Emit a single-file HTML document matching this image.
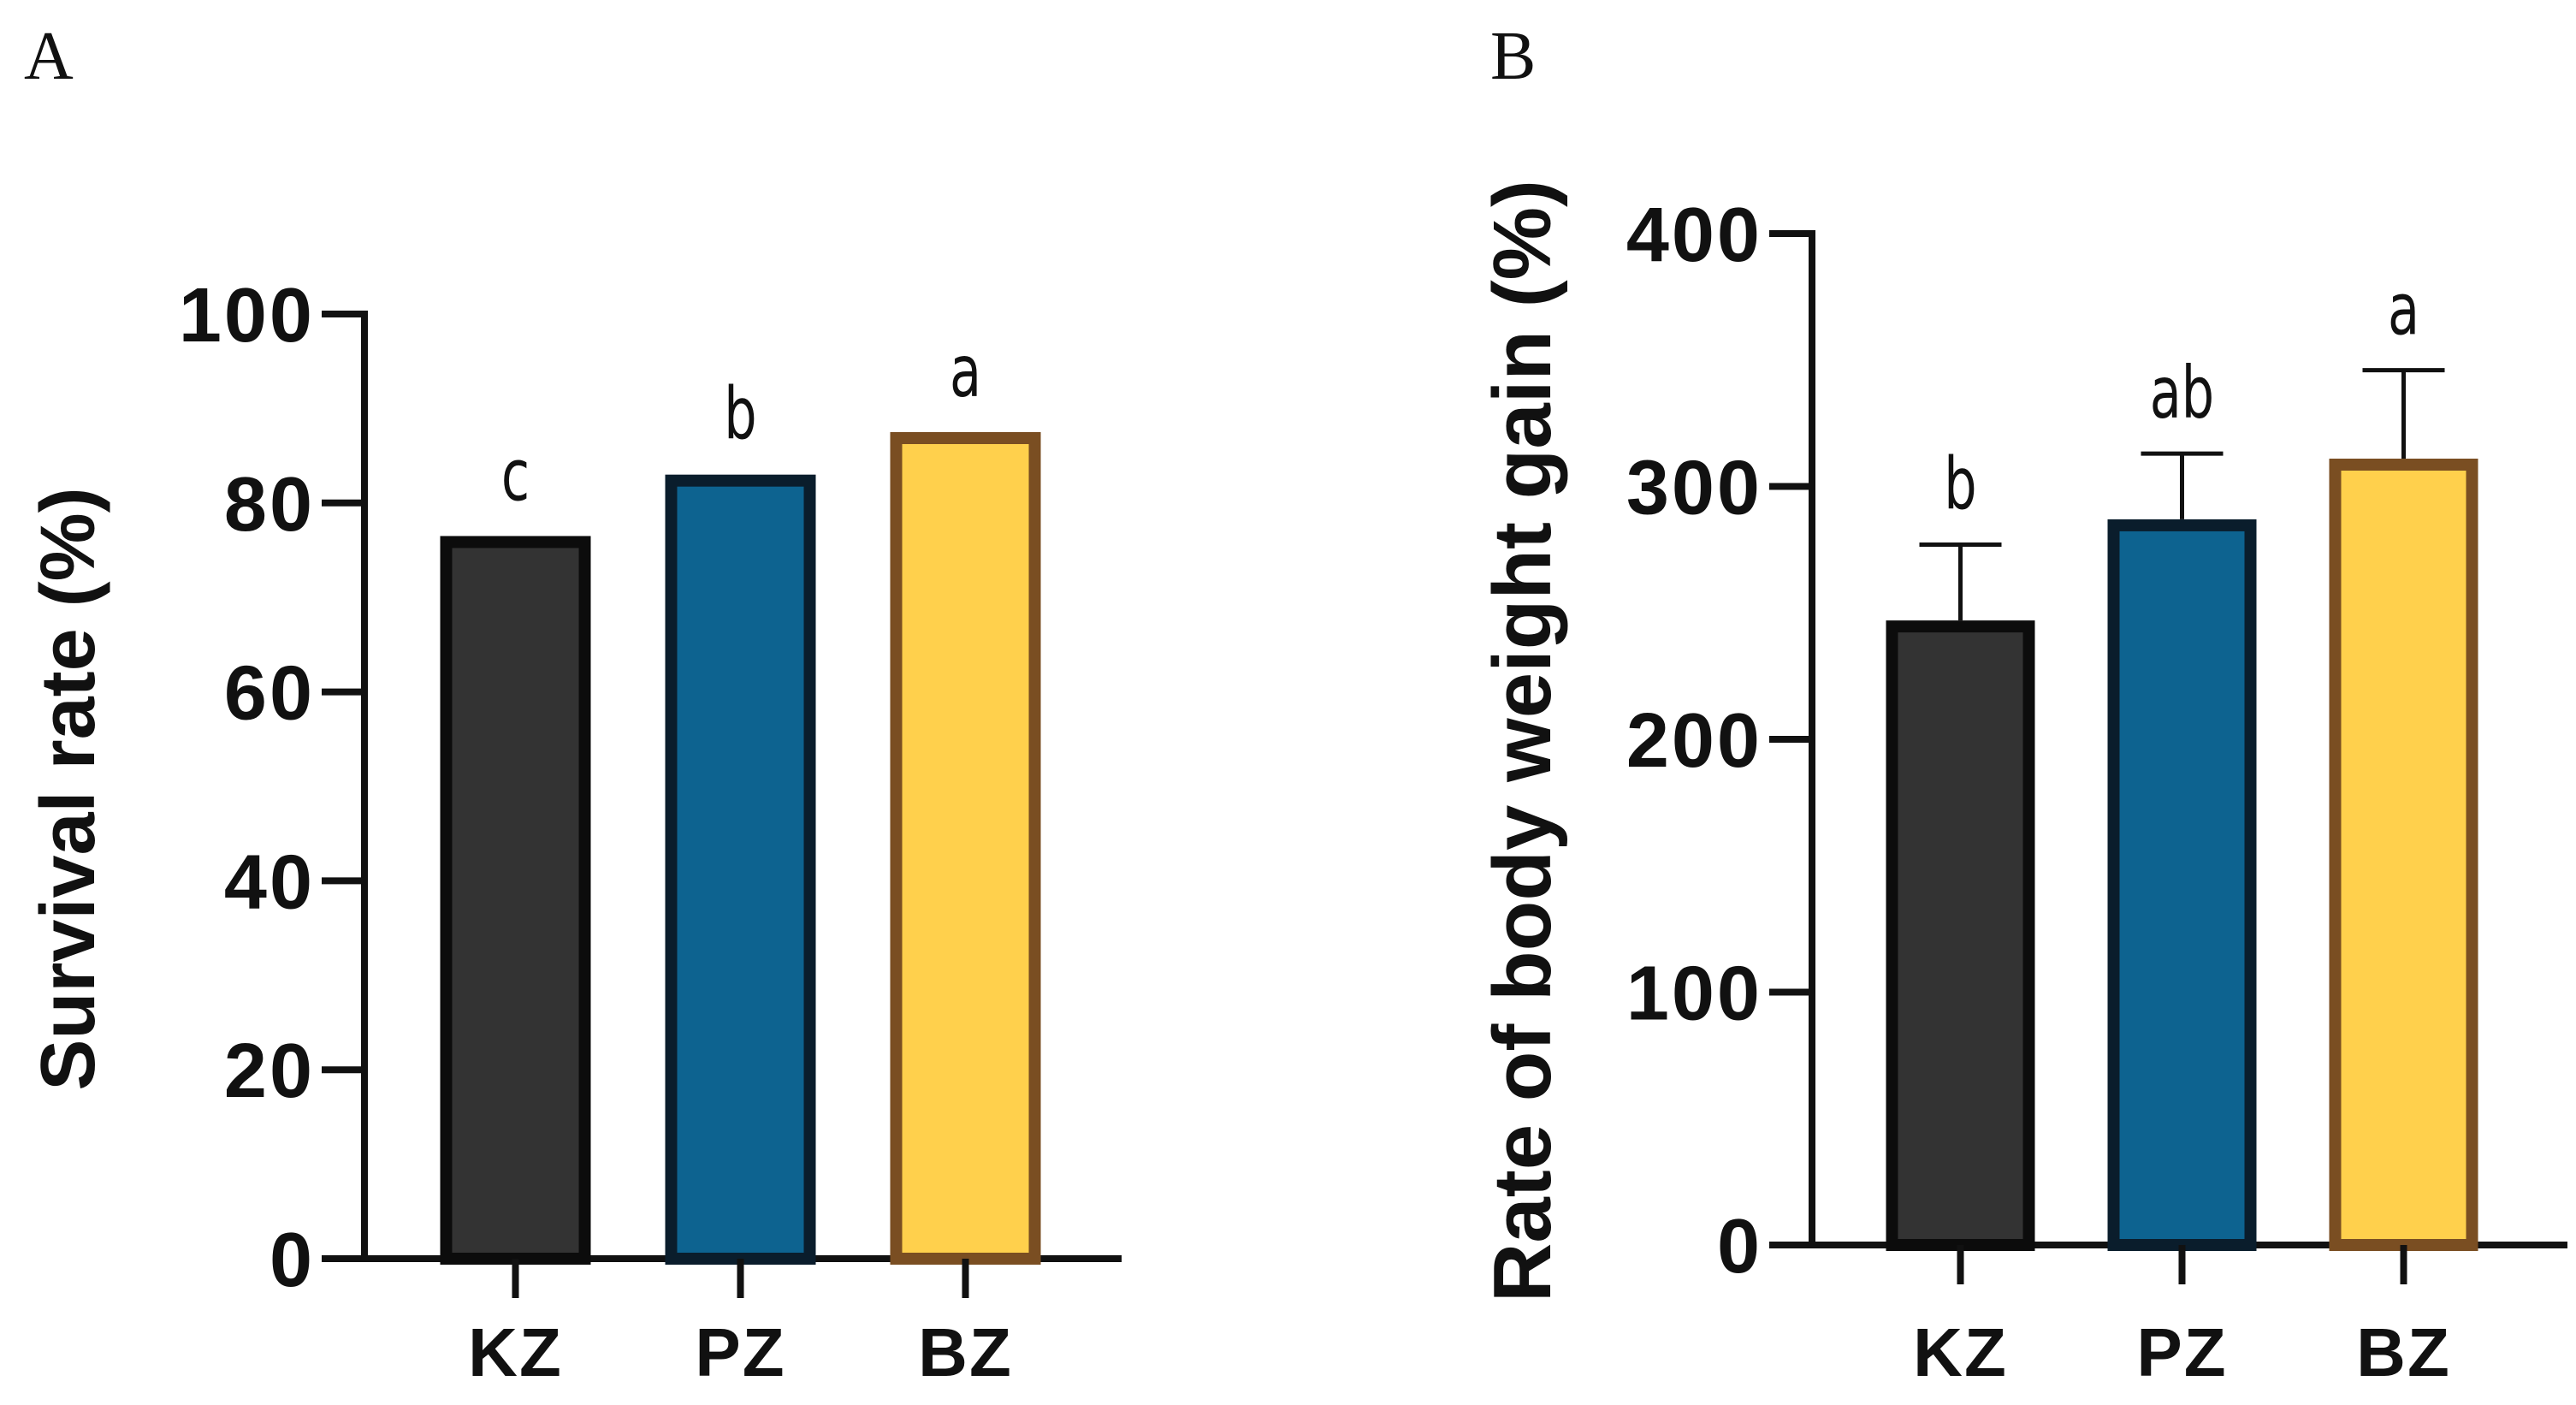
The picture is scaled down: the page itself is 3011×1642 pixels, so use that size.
<!DOCTYPE html>
<html><head><meta charset="utf-8">
<style>
html,body{margin:0;padding:0;background:#fff;}
svg{display:block;}
.tick{font-family:"Liberation Sans",Arial,sans-serif;font-weight:bold;font-size:90px;fill:#111;letter-spacing:3px;}
.cat{font-family:"Liberation Sans",Arial,sans-serif;font-weight:bold;font-size:80px;fill:#111;letter-spacing:2px;}
.ttl{font-family:"Liberation Sans",Arial,sans-serif;font-weight:bold;fill:#111;}
.sig{font-family:"DejaVu Sans Condensed","Liberation Sans Narrow","Liberation Sans",sans-serif;font-size:84px;fill:#111;}
.pl{font-family:"Liberation Serif",serif;font-size:80px;fill:#111;}
</style></head>
<body>
<svg id="chart" width="3011" height="1642" viewBox="0 0 3011 1642" xmlns="http://www.w3.org/2000/svg">
<text class="pl" x="28" y="92">A</text>
<text class="pl" x="1742" y="92">B</text>
</svg>
<script>
const categories = ["KZ","PZ","BZ"];
const survivalValues = [76.5, 83, 87.5];
const survivalLetters = ["c","b","a"];
const survivalTicks = [0,20,40,60,80,100];
const gainValues = [247, 287, 311];
const gainErrors = [30, 26, 35];
const gainLetters = ["b","ab","a"];
const gainTicks = [0,100,200,300,400];

const fills = ["#333333","#0d6390","#ffd04c"];
const strokes = ["#0c0c0c","#0a1d2c","#7a4e22"];
const svg = document.getElementById('chart');
const NS = "http://www.w3.org/2000/svg";
function mk(tag, attrs, parent){ const e=document.createElementNS(NS,tag); for(const k in attrs) e.setAttribute(k,attrs[k]); (parent||svg).appendChild(e); return e; }

function panel(cfg){
  const g = mk('g',{});
  
  
  const y = v => cfg.y0 - (v - 0) / cfg.max * (cfg.y0 - cfg.yTop);
  const xc = i => cfg.x1 + (i + 0.5) * cfg.step;
  const ya = mk('line',{x1:cfg.ax,y1:y(cfg.max)-4,x2:cfg.ax,y2:cfg.y0+4,stroke:'#111','stroke-width':8},g);
  
  
  const xa = mk('line',{x1:cfg.ax-4,y1:cfg.y0,x2:cfg.xEnd,y2:cfg.y0,stroke:'#111','stroke-width':8},g);
  
  
  cfg.ticks.forEach(t=>{
    const l = mk('line',{x1:cfg.ax-50,y1:y(t),x2:cfg.ax,y2:y(t),stroke:'#111','stroke-width':8},g);
    
    
    const tx = mk('text',{x:cfg.ax-58,y:y(t)+32,'text-anchor':'end',class:'tick'},g);
    tx.textContent = t;
    
    
  });
  cfg.values.forEach((v,i)=>{
    const cx = xc(i), w = cfg.barW;
    const r = mk('rect',{x:cx-w/2+7,y:y(v)+7,width:w-14,height:cfg.y0-y(v)-7,fill:fills[i],stroke:strokes[i],'stroke-width':14},g);
    
    
    let top = y(v);
    if(cfg.errors){
      const e = cfg.errors[i];
      const el = mk('path',{d:`M${cx},${y(v)} V${y(v+e)} M${cx-48},${y(v+e)} H${cx+48}`,stroke:'#111','stroke-width':5,fill:'none'},g);
      
      
      top = y(v+e);
    }
    const s = mk('text',{x:cx,y:top-42,'text-anchor':'middle',class:'sig',transform:`translate(${cx},0) scale(0.8,1) translate(${-cx},0)`},g);
    s.textContent = cfg.letters[i];
    
    
    const tk = mk('line',{x1:cx,y1:cfg.y0,x2:cx,y2:cfg.y0+46,stroke:'#111','stroke-width':8},g);
    
    
    const c = mk('text',{x:cx,y:1608,'text-anchor':'middle',class:'cat'},g);
    c.textContent = categories[i];
    
    
  });
  const t = mk('text',{x:0,y:0,'text-anchor':'middle',class:'ttl','font-size':cfg.titleSize,transform:`translate(${cfg.titleX},${cfg.titleY}) rotate(-90)`},g);
  t.textContent = cfg.title;
  
  
}

panel({name:'survival-panel',ax:426,y0:1471,yTop:367,max:100,x1:471,step:263,barW:176,xEnd:1311,
  values:survivalValues,letters:survivalLetters,ticks:survivalTicks,title:'Survival rate (%)',titleX:110,titleY:922,titleSize:90});
panel({name:'weight-gain-panel',ax:2118,y0:1455,yTop:273,max:400,x1:2162,step:259,barW:174,xEnd:3001,
  values:gainValues,errors:gainErrors,letters:gainLetters,ticks:gainTicks,title:'Rate of body weight gain (%)',titleX:1812,titleY:866,titleSize:96});
</script>
</body></html>
